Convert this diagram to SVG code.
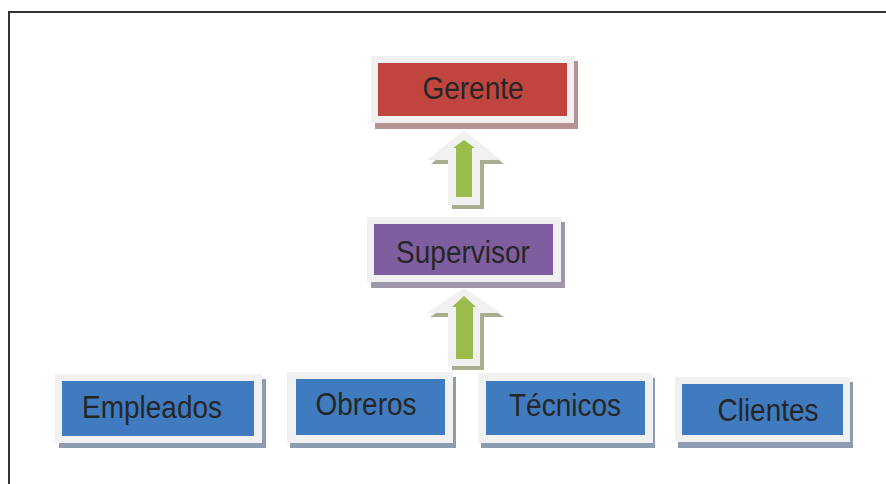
<svg xmlns="http://www.w3.org/2000/svg" width="886" height="484" viewBox="0 0 886 484">
  <style>
    .frame { fill: #f1f1f1; }
    .label { font-family: "Liberation Sans", Arial, sans-serif; font-size: 28px; fill: #262626; text-anchor: middle; }
    .sh-red { fill: #b79294; }
    .sh-purple { fill: #9e96ab; }
    .sh-blue { fill: #8d9cb1; }
    .sh-arrow { fill: #a8ae90; }
    .arrow-out { fill: #f1f1f1; }
    .arrow-in { fill: #9bbb4c; }
  </style>

  <!-- page border -->
  <path d="M9 484 V12 H886" fill="none" stroke="#333" stroke-width="2"/>

  <!-- labels are drawn slightly taller than wide -->
  <g id="gerente">
    <rect class="sh-red" x="375" y="61" width="203" height="68"/>
    <rect class="frame" x="371" y="56" width="203" height="67"/>
    <rect x="378" y="63" width="189" height="53" fill="#c0453f"/>
    <text class="label" transform="translate(473 99) scale(1 1.1)">Gerente</text>
  </g>

  <g id="supervisor">
    <rect class="sh-purple" x="371" y="222" width="194" height="66"/>
    <rect class="frame" x="367" y="217" width="194" height="65"/>
    <rect x="374" y="224" width="179" height="51" fill="#7f5ea0"/>
    <text class="label" transform="translate(463 263) scale(1 1.1)">Supervisor</text>
  </g>

  <g id="empleados">
    <rect class="sh-blue" x="59" y="379" width="207" height="69"/>
    <rect class="frame" x="55" y="374" width="207" height="69"/>
    <rect x="62" y="381" width="192" height="55" fill="#407bbf"/>
    <text class="label" transform="translate(152 418) scale(1 1.1)">Empleados</text>
  </g>

  <g id="obreros">
    <rect class="sh-blue" x="290" y="377" width="166" height="71"/>
    <rect class="frame" x="287" y="372" width="166" height="71"/>
    <rect x="296" y="379" width="149" height="56" fill="#407bbf"/>
    <text class="label" transform="translate(366 415) scale(1 1.1)">Obreros</text>
  </g>

  <g id="tecnicos">
    <rect class="sh-blue" x="481" y="378" width="174" height="70"/>
    <rect class="frame" x="478" y="373" width="175" height="70"/>
    <rect x="486" y="381" width="159" height="54" fill="#407bbf"/>
    <text class="label" transform="translate(565 416) scale(1 1.1)">Técnicos</text>
  </g>

  <g id="clientes">
    <rect class="sh-blue" x="678" y="382" width="175" height="66"/>
    <rect class="frame" x="675" y="377" width="175" height="65"/>
    <rect x="682" y="384" width="161" height="51" fill="#407bbf"/>
    <text class="label" transform="translate(768 421) scale(1 1.1)">Clientes</text>
  </g>

  <g id="connectors">
    <!-- Supervisor to Gerente -->
    <polygon class="sh-arrow" points="467,134 504,164 484,164 484,209 452,209 452,164 431,164"/>
    <polygon class="arrow-out" points="464,130 501,160 480,160 480,205 448,205 448,160 427,160"/>
    <polygon class="arrow-in" points="464,140 475,148 472,148 472,197 456,197 456,148 453,148"/>
    <!-- Base row to Supervisor -->
    <polygon class="sh-arrow" points="467,292 504,317 484,317 484,370 452,370 452,317 430,317"/>
    <polygon class="arrow-out" points="464,288 501,313 480,313 480,366 448,366 448,313 427,313"/>
    <polygon class="arrow-in" points="464,296 476,307 473,307 473,359 456,359 456,307 452,307"/>
  </g>
</svg>
